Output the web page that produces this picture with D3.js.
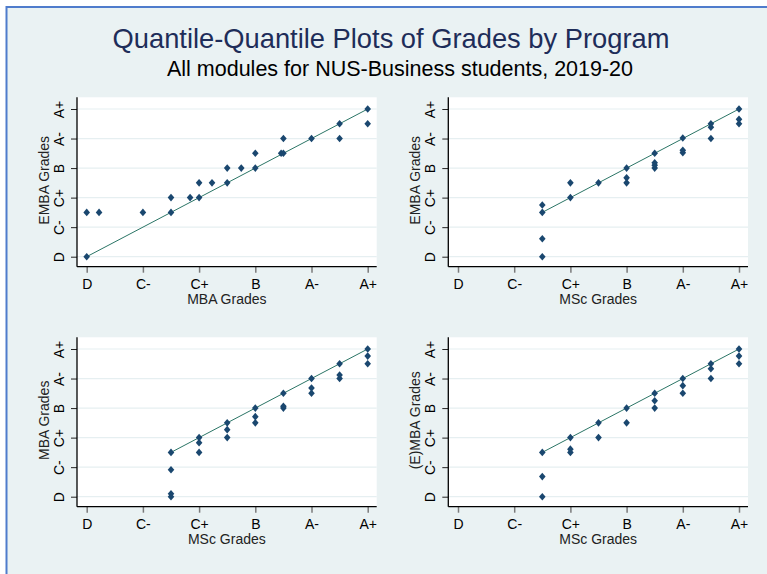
<!DOCTYPE html>
<html>
<head>
<meta charset="utf-8">
<script src="https://cdn.jsdelivr.net/npm/d3@7"></script>
<style>
  body { margin: 0; background: #ffffff; }
  svg { display: block; font-family: "Liberation Sans", Arial, sans-serif; }
</style>
</head>
<body>
<div id="chart"></div>
<script>
// grade scale: D=0 ... A+=5, half steps are the grades in between
const gradeLabels = ['D', 'C-', 'C+', 'B', 'A-', 'A+'];
const gradeValues = [0, 1, 2, 3, 4, 5];

// panel 1: MBA (x) vs EMBA (y) quantiles
const mbaQ1 = [0, 0, 0.22, 1, 1.5, 1.5, 1.84, 2, 2, 2.23, 2.5, 2.5, 2.75, 3, 3, 3.46, 3.5, 3.5, 4, 4.5, 4.5, 5, 5];
const embaQ1 = [0, 1.5, 1.5, 1.5, 1.5, 2, 2, 2, 2.5, 2.5, 2.5, 3, 3, 3, 3.5, 3.5, 3.5, 4, 4, 4, 4.5, 4.5, 5];

// panel 2: MSc (x) vs EMBA (y)
const mscQ2 = [1.5, 1.5, 1.5, 1.5, 2, 2, 2.5, 3, 3, 3, 3.5, 3.5, 3.5, 3.5, 4, 4, 4, 4.5, 4.5, 4.5, 5, 5, 5];
const embaQ2 = [0, 0.61, 1.5, 1.75, 2, 2.5, 2.5, 2.5, 2.67, 3, 3, 3.1, 3.18, 3.5, 3.52, 3.6, 4.02, 4, 4.38, 4.5, 4.5, 4.65, 5];

// panel 3: MSc (x) vs MBA (y)
const mscQ3 = [1.5, 1.5, 1.5, 1.5, 2, 2, 2, 2.5, 2.5, 2.5, 3, 3, 3, 3.5, 3.5, 3.5, 4, 4, 4, 4.5, 4.5, 4.5, 5, 5, 5];
const mbaQ3 = [0, 0.1, 0.91, 1.5, 1.5, 1.83, 2, 2, 2.27, 2.5, 2.5, 2.71, 3, 3, 3.06, 3.5, 3.5, 3.68, 4, 4, 4.12, 4.5, 4.5, 4.76, 5];

// panel 4: MSc (x) vs (E)MBA (y)
const mscQ4 = [1.5, 1.5, 1.5, 2, 2, 2, 2.5, 2.5, 3, 3, 3.5, 3.5, 3.5, 4, 4, 4, 4.5, 4.5, 4.5, 5, 5, 5];
const ebmaQ4 = [0, 0.68, 1.5, 1.5, 1.61, 2, 2, 2.5, 2.5, 3, 3, 3.25, 3.5, 3.5, 3.76, 4, 4, 4.33, 4.5, 4.5, 4.76, 5];

const panels = [
  { xs: mbaQ1, ys: embaQ1, xTitle: 'MBA Grades', yTitle: 'EMBA Grades', left: 77, top: 97.3 },
  { xs: mscQ2, ys: embaQ2, xTitle: 'MSc Grades', yTitle: 'EMBA Grades', left: 448.3, top: 97.3 },
  { xs: mscQ3, ys: mbaQ3, xTitle: 'MSc Grades', yTitle: 'MBA Grades', left: 77, top: 337.3 },
  { xs: mscQ4, ys: ebmaQ4, xTitle: 'MSc Grades', yTitle: '(E)MBA Grades', left: 448.3, top: 337.3 },
];

const width = 767;
const height = 574;
const pw = 299.7;
const ph = 169.4;

const svg = d3
  .select('#chart')
  .append('svg')
  .attr('width', width)
  .attr('height', height);

// graph background with frame on the left/top
svg
  .append('rect')
  .attr('x', 6.5)
  .attr('y', 7)
  .attr('width', width + 10)
  .attr('height', height + 10)
  .attr('fill', '#eaf2f3')
  .attr('stroke', '#4f7ccc')
  .attr('stroke-width', 2);

svg
  .append('text')
  .attr('x', 391)
  .attr('y', 48)
  .attr('text-anchor', 'middle')
  .attr('font-size', 27.3)
  .attr('fill', '#1e2d59')
  .text('Quantile-Quantile Plots of Grades by Program');

svg
  .append('text')
  .attr('x', 400)
  .attr('y', 76)
  .attr('text-anchor', 'middle')
  .attr('font-size', 21.5)
  .attr('fill', '#000')
  .text('All modules for NUS-Business students, 2019-20');

const diamond = 'M0,-3.8L3.3,0L0,3.8L-3.3,0Z';

panels.forEach((p) => {
  const x = d3.scaleLinear().domain([0, 5]).range([9.7, 290.7]);
  const y = d3.scaleLinear().domain([0, 5]).range([159.4, 11.7]);

  const g = svg.append('g').attr('transform', `translate(${p.left},${p.top})`);

  g.append('rect').attr('width', pw).attr('height', ph).attr('fill', '#fff');

  // horizontal grid
  g.selectAll('.grid')
    .data(gradeValues)
    .enter()
    .append('line')
    .attr('x1', 0)
    .attr('x2', pw)
    .attr('y1', (d) => y(d))
    .attr('y2', (d) => y(d))
    .attr('stroke', '#e6eff1')
    .attr('stroke-width', 1.2);

  // y axis
  const yAxis = g.append('g').call(
    d3.axisLeft(y).tickValues(gradeValues).tickFormat((d, i) => gradeLabels[i]).tickSize(6).tickPadding(0)
  );
  yAxis.select('.domain').remove();
  yAxis.selectAll('.tick line').attr('stroke', '#222');
  yAxis
    .selectAll('.tick text')
    .attr('x', null)
    .attr('dy', null)
    .attr('transform', 'translate(-13,0) rotate(-90)')
    .attr('text-anchor', 'middle')
    .attr('font-size', 14)
    .attr('font-family', '"Liberation Sans", Arial, sans-serif')
    .attr('fill', '#000');

  // x axis
  const xAxis = g
    .append('g')
    .attr('transform', `translate(0,${ph})`)
    .call(d3.axisBottom(x).tickValues(gradeValues).tickFormat((d, i) => gradeLabels[i]).tickSize(6).tickPadding(6));
  xAxis.select('.domain').remove();
  xAxis.selectAll('.tick line').attr('stroke', '#7a7a7a').attr('stroke-width', 1.5);
  xAxis
    .selectAll('.tick text')
    .attr('y', 22)
    .attr('dy', null)
    .attr('font-size', 14)
    .attr('font-family', '"Liberation Sans", Arial, sans-serif')
    .attr('fill', '#000');

  // axis lines
  g.append('line').attr('x1', 0).attr('x2', 0).attr('y1', 0).attr('y2', ph).attr('stroke', '#000').attr('stroke-width', 1.3);
  g.append('line').attr('x1', 0).attr('x2', pw).attr('y1', ph).attr('y2', ph).attr('stroke', '#000').attr('stroke-width', 1.3);

  // axis titles
  g.append('text')
    .attr('x', pw / 2)
    .attr('y', ph + 37)
    .attr('text-anchor', 'middle')
    .attr('font-size', 14)
    .attr('fill', '#222')
    .text(p.xTitle);

  g.append('text')
    .attr('transform', `translate(-28,${83}) rotate(-90)`)
    .attr('text-anchor', 'middle')
    .attr('font-size', 14)
    .attr('fill', '#222')
    .text(p.yTitle);

  // 45-degree reference line over the range of x
  const lo = d3.min(p.xs);
  const hi = d3.max(p.xs);
  g.append('line')
    .attr('x1', x(lo))
    .attr('y1', y(lo))
    .attr('x2', x(hi))
    .attr('y2', y(hi))
    .attr('stroke', '#2b7566')
    .attr('stroke-width', 1);

  const pts = p.xs.map((v, i) => ({ x: v, y: p.ys[i] }));
  g.selectAll('.pt')
    .data(pts)
    .enter()
    .append('path')
    .attr('d', diamond)
    .attr('transform', (d) => `translate(${x(d.x)},${y(d.y)})`)
    .attr('fill', '#1a476f');
});
</script>
</body>
</html>
